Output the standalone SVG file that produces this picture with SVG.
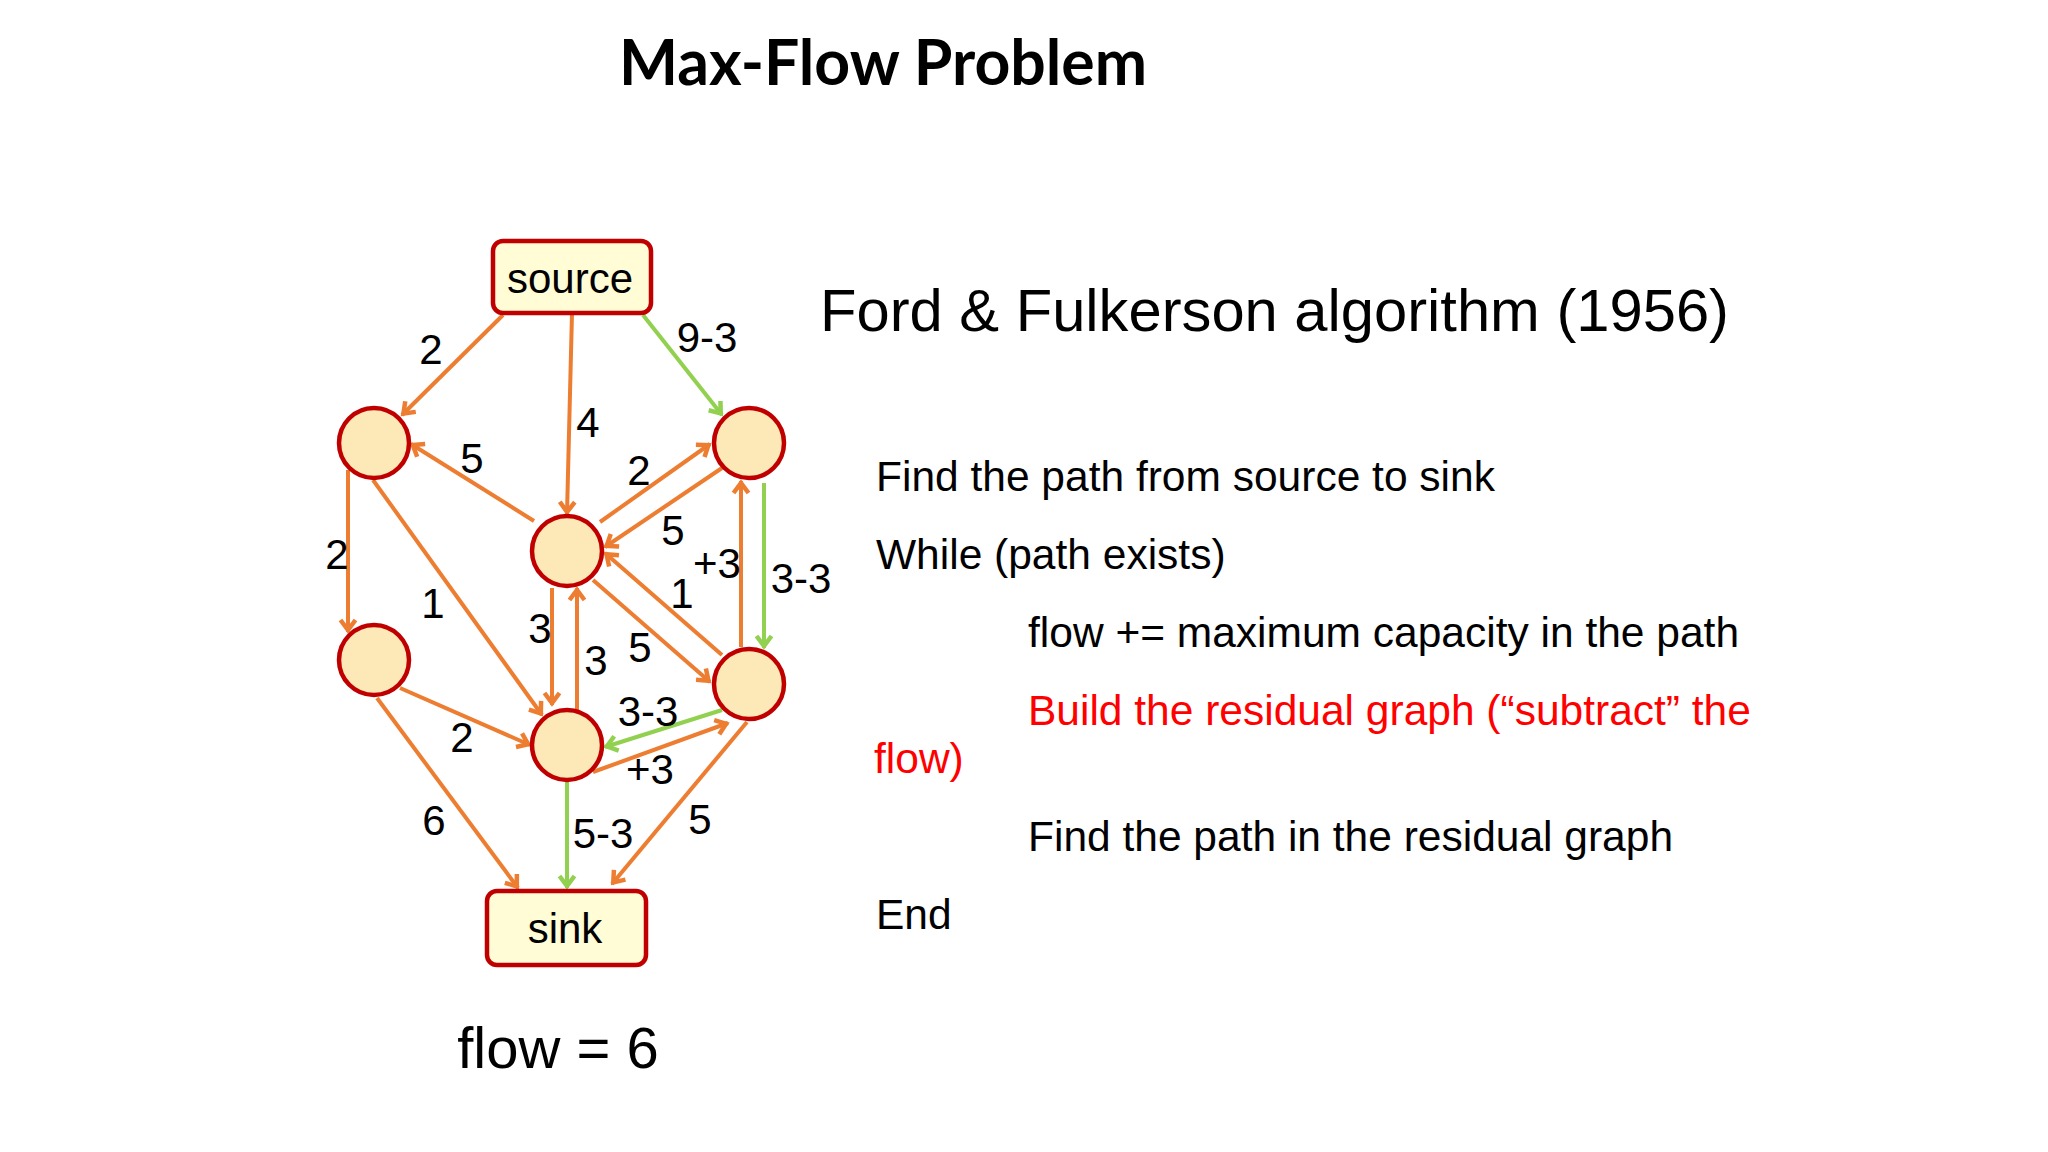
<svg xmlns="http://www.w3.org/2000/svg" width="2048" height="1152" viewBox="0 0 2048 1152">
<defs>
<style>
.t{font-family:"Liberation Sans",Arial,sans-serif;fill:#000}
.lbl{font-family:"Liberation Sans",Arial,sans-serif;font-size:42px;fill:#000;text-anchor:middle}
.node{fill:#fde8b8;stroke:#c00000;stroke-width:4.5}
.box{fill:#fffcd6;stroke:#c00000;stroke-width:4.5}
.eo{stroke:#ed7d31;stroke-width:4;fill:none;marker-end:url(#ao)}
.eg{stroke:#92d050;stroke-width:4;fill:none;marker-end:url(#ag)}
.body{font-family:"Liberation Sans",Arial,sans-serif;font-size:42.5px;fill:#000}
</style>
<marker id="ao" markerUnits="userSpaceOnUse" viewBox="-16 -16 32 32" markerWidth="32" markerHeight="32" refX="0" refY="0" orient="auto" overflow="visible">
<path d="M-12,-7.5 L-2,0 L-12,7.5" fill="none" stroke="#ed7d31" stroke-width="4.5"/>
</marker>
<marker id="ag" markerUnits="userSpaceOnUse" viewBox="-16 -16 32 32" markerWidth="32" markerHeight="32" refX="0" refY="0" orient="auto" overflow="visible">
<path d="M-12,-7.5 L-2,0 L-12,7.5" fill="none" stroke="#92d050" stroke-width="4.5"/>
</marker>
</defs>
<rect width="2048" height="1152" fill="#fff"/>
<text x="883" y="85" font-family="Lato,'Noto Sans',sans-serif" font-weight="bold" font-size="62.5" text-anchor="middle" fill="#000">Max-Flow Problem</text>

<g id="connectors">
<line class="eo" x1="503" y1="315" x2="402" y2="415"/>
<line class="eo" x1="572" y1="313" x2="567" y2="514"/>
<line class="eg" x1="643" y1="315" x2="722" y2="415"/>
<line class="eo" x1="534" y1="521" x2="411" y2="444"/>
<line class="eo" x1="600" y1="522" x2="710" y2="444"/>
<line class="eo" x1="722" y1="468" x2="605" y2="547"/>
<line class="eo" x1="348" y1="470" x2="348" y2="632"/>
<line class="eo" x1="373" y1="480" x2="542" y2="715"/>
<line class="eo" x1="552" y1="588" x2="552" y2="705"/>
<line class="eo" x1="577" y1="710" x2="577" y2="588"/>
<line class="eo" x1="593" y1="580" x2="710" y2="682"/>
<line class="eo" x1="722" y1="655" x2="605" y2="553"/>
<line class="eo" x1="741" y1="647" x2="741" y2="481"/>
<line class="eg" x1="764" y1="483" x2="764" y2="648"/>
<line class="eo" x1="400" y1="688" x2="530" y2="745"/>
<line class="eg" x1="722" y1="710" x2="605" y2="747"/>
<line class="eo" x1="593" y1="772" x2="728" y2="723"/>
<line class="eo" x1="377" y1="698" x2="518" y2="888"/>
<line class="eg" x1="567" y1="782" x2="567" y2="888"/>
<line class="eo" x1="747" y1="722" x2="612" y2="884"/>
</g>

<g id="edge-labels">
<text class="lbl" x="431" y="364">2</text>
<text class="lbl" x="588" y="437">4</text>
<text class="lbl" x="707" y="352">9-3</text>
<text class="lbl" x="472" y="473">5</text>
<text class="lbl" x="639" y="485">2</text>
<text class="lbl" x="673" y="545">5</text>
<text class="lbl" x="717" y="578">+3</text>
<text class="lbl" x="801" y="593">3-3</text>
<text class="lbl" x="682" y="608">1</text>
<text class="lbl" x="337" y="569">2</text>
<text class="lbl" x="433" y="618">1</text>
<text class="lbl" x="540" y="643">3</text>
<text class="lbl" x="596" y="675">3</text>
<text class="lbl" x="640" y="662">5</text>
<text class="lbl" x="648" y="726">3-3</text>
<text class="lbl" x="462" y="752">2</text>
<text class="lbl" x="650" y="784">+3</text>
<text class="lbl" x="434" y="835">6</text>
<text class="lbl" x="603" y="848">5-3</text>
<text class="lbl" x="700" y="834">5</text>
</g>

<g id="source">
<rect class="box" x="493" y="241" width="158" height="72" rx="10"/>
<text class="t" x="570" y="293" font-size="42" text-anchor="middle" fill="#1a1a00">source</text>
</g>
<g id="n-a"><circle class="node" cx="374" cy="443" r="35"/></g>
<g id="n-b"><circle class="node" cx="749" cy="443" r="35"/></g>
<g id="n-c"><circle class="node" cx="567" cy="551" r="35"/></g>
<g id="n-d"><circle class="node" cx="374" cy="660" r="35"/></g>
<g id="n-e"><circle class="node" cx="749" cy="684" r="35"/></g>
<g id="n-f"><circle class="node" cx="567" cy="745" r="35"/></g>
<g id="sink">
<rect class="box" x="487" y="891" width="159" height="74" rx="10"/>
<text class="t" x="565" y="943" font-size="42" text-anchor="middle">sink</text>
</g>

<text class="t" x="558" y="1068" font-size="58" text-anchor="middle">flow = 6</text>

<text class="t" x="820" y="331" font-size="59.7">Ford &amp; Fulkerson algorithm (1956)</text>
<text class="body" x="876" y="491">Find the path from source to sink</text>
<text class="body" x="876" y="569">While (path exists)</text>
<text class="body" x="1028" y="647">flow += maximum capacity in the path</text>
<text class="body" x="1028" y="725" style="fill:#f00">Build the residual graph (“subtract” the</text>
<text class="body" x="874" y="773" style="fill:#f00">flow)</text>
<text class="body" x="1028" y="851">Find the path in the residual graph</text>
<text class="body" x="876" y="929">End</text>
</svg>
